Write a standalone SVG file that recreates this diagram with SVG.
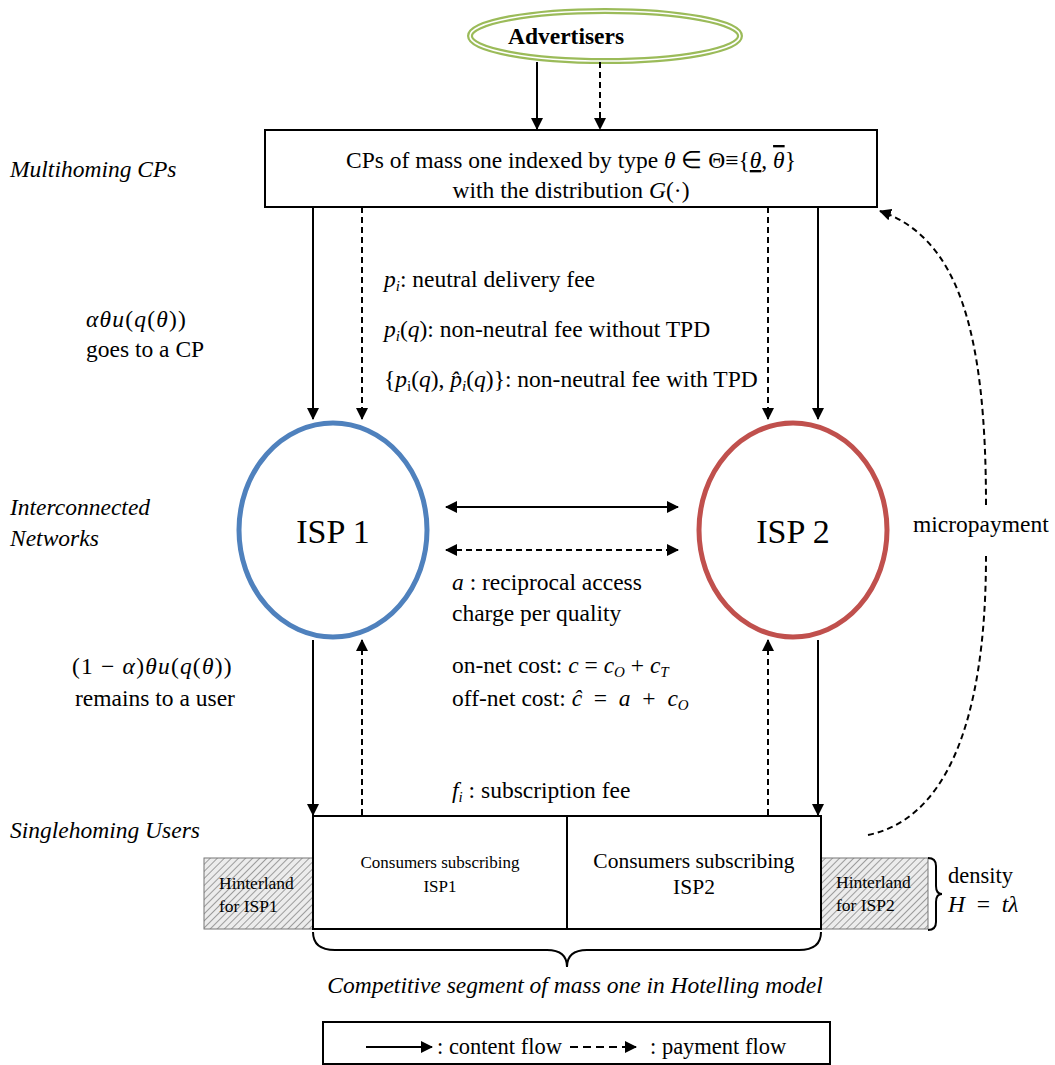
<svg xmlns="http://www.w3.org/2000/svg" width="1055" height="1065" viewBox="0 0 1055 1065">
<style>
text{font-family:"Liberation Serif","Times New Roman",serif;fill:#000;font-size:23.5px}
.it{font-style:italic}
.ln{stroke:#000;stroke-width:2;fill:none}
.da{stroke-dasharray:6 4}
.box{fill:#fff;stroke:#000;stroke-width:2}
.sub{font-size:15px}
.m{letter-spacing:1.2px}
</style>
<defs>
<marker id="ah" markerUnits="userSpaceOnUse" markerWidth="12" markerHeight="12" refX="11" refY="6" orient="auto-start-reverse" viewBox="0 0 12 12">
<path d="M0,0 L12,6 L0,12 z" fill="#000"/>
</marker>
<pattern id="hatch" patternUnits="userSpaceOnUse" width="5" height="5" patternTransform="rotate(45)">
<rect width="5" height="5" fill="#ececec"/>
<line x1="0" y1="0" x2="0" y2="5" stroke="#888" stroke-width="1.6"/>
</pattern>
</defs>
<rect width="1055" height="1065" fill="#fff"/>

<g id="side-labels">
<text x="10" y="177" class="it">Multihoming CPs</text>
<text x="10" y="515" class="it">Interconnected</text>
<text x="10" y="546" class="it">Networks</text>
<text x="10" y="838" class="it">Singlehoming Users</text>
</g>

<g id="advertisers">
<ellipse cx="605" cy="36" rx="135" ry="25" fill="#fff" stroke="#9bbb59" stroke-width="6"/>
<ellipse cx="605" cy="36" rx="135" ry="25" fill="none" stroke="#fff" stroke-width="1.6"/>
<text x="566" y="44" text-anchor="middle" font-weight="bold">Advertisers</text>
</g>

<g id="cps">
<rect x="265" y="130" width="612" height="77" class="box"/>
<text x="571" y="168" text-anchor="middle">CPs of mass one indexed by type <tspan class="it">θ</tspan> ∈ Θ≡{<tspan class="it" text-decoration="underline">θ</tspan>, <tspan class="it" text-decoration="overline">θ</tspan>}</text>
<text x="571" y="198" text-anchor="middle">with the distribution <tspan class="it">G</tspan>(·)</text>
</g>

<g id="isp1">
<ellipse cx="333" cy="530" rx="94" ry="107" fill="none" stroke="#4f81bd" stroke-width="5"/>
<text x="333" y="543" text-anchor="middle" style="font-size:34px">ISP 1</text>
</g>

<g id="isp2">
<ellipse cx="793" cy="530" rx="94" ry="107" fill="none" stroke="#c0504d" stroke-width="5"/>
<text x="793" y="543" text-anchor="middle" style="font-size:34px">ISP 2</text>
</g>

<g id="users">
<rect x="204" y="858" width="109" height="71" fill="url(#hatch)" stroke="#777" stroke-width="1"/>
<rect x="821" y="858" width="107" height="71" fill="url(#hatch)" stroke="#777" stroke-width="1"/>
<rect x="313" y="816" width="508" height="113" class="box"/>
<line x1="567" y1="816" x2="567" y2="929" class="ln"/>
<text x="440" y="868" text-anchor="middle" style="font-size:17px">Consumers subscribing</text>
<text x="440" y="892" text-anchor="middle" style="font-size:17px">ISP1</text>
<text x="694" y="868" text-anchor="middle" style="font-size:21.5px">Consumers subscribing</text>
<text x="694" y="894" text-anchor="middle" style="font-size:21.5px">ISP2</text>
<text x="219" y="889" style="font-size:17.5px">Hinterland</text>
<text x="219" y="912" style="font-size:17.5px">for ISP1</text>
<text x="836" y="888" style="font-size:17.5px">Hinterland</text>
<text x="836" y="911" style="font-size:17.5px">for ISP2</text>
</g>

<g id="connectors">
<line x1="537" y1="62" x2="537" y2="129" class="ln" marker-end="url(#ah)"/>
<line x1="600" y1="62" x2="600" y2="129" class="ln da" marker-end="url(#ah)"/>
<line x1="313" y1="207" x2="313" y2="419" class="ln" marker-end="url(#ah)"/>
<line x1="362" y1="207" x2="362" y2="419" class="ln da" marker-end="url(#ah)"/>
<line x1="768" y1="207" x2="768" y2="419" class="ln da" marker-end="url(#ah)"/>
<line x1="818" y1="207" x2="818" y2="419" class="ln" marker-end="url(#ah)"/>
<line x1="446" y1="507" x2="678" y2="507" class="ln" marker-start="url(#ah)" marker-end="url(#ah)"/>
<line x1="446" y1="550" x2="678" y2="550" class="ln da" marker-start="url(#ah)" marker-end="url(#ah)"/>
<line x1="313" y1="640" x2="313" y2="815" class="ln" marker-end="url(#ah)"/>
<line x1="362" y1="815" x2="362" y2="640" class="ln da" marker-end="url(#ah)"/>
<line x1="768" y1="815" x2="768" y2="640" class="ln da" marker-end="url(#ah)"/>
<line x1="818" y1="640" x2="818" y2="815" class="ln" marker-end="url(#ah)"/>
<path d="M868,835 C942,820 986,730 986,556" class="ln da"/>
<path d="M986,505 C986,330 958,238 880,211" class="ln da" marker-end="url(#ah)"/>
<path d="M928,858 Q936,858 936,866 L936,886 Q936,894 942,894 Q936,894 936,902 L936,922 Q936,930 928,930" class="ln"/>
<path d="M313,932 Q313,950 335,950 L547,950 Q567,950 567,967 Q567,950 587,950 L799,950 Q821,950 821,932" class="ln"/>
</g>

<g id="labels">
<text x="384" y="287"><tspan class="it">p</tspan><tspan class="it sub" dy="4">i</tspan><tspan dy="-4">: neutral delivery fee</tspan></text>
<text x="384" y="337"><tspan class="it">p</tspan><tspan class="it sub" dy="4">i</tspan><tspan dy="-4">(</tspan><tspan class="it">q</tspan>): non-neutral fee without TPD</text>
<text x="384" y="387">{<tspan class="it">p</tspan><tspan class="sub" dy="4">i</tspan><tspan dy="-4">(</tspan><tspan class="it">q</tspan>), <tspan class="it">p̂</tspan><tspan class="it sub" dy="4">i</tspan><tspan dy="-4">(</tspan><tspan class="it">q</tspan>)}: non-neutral fee with TPD</text>
<text x="86" y="327" class="m"><tspan class="it">αθu</tspan>(<tspan class="it">q</tspan>(<tspan class="it">θ</tspan>))</text>
<text x="86" y="357">goes to a CP</text>
<text x="72" y="674" class="m">(1 − <tspan class="it">α</tspan>)<tspan class="it">θu</tspan>(<tspan class="it">q</tspan>(<tspan class="it">θ</tspan>))</text>
<text x="155" y="706" text-anchor="middle">remains to a user</text>
<text x="452" y="590"><tspan class="it">a</tspan> : reciprocal access</text>
<text x="452" y="621">charge per quality</text>
<text x="452" y="673">on-net cost: <tspan class="it">c</tspan> = <tspan class="it">c</tspan><tspan class="it sub" dy="4">O</tspan><tspan dy="-4"> + </tspan><tspan class="it">c</tspan><tspan class="it sub" dy="4">T</tspan></text>
<text x="452" y="706" xml:space="preserve">off-net cost: <tspan class="it">ĉ</tspan>  =  <tspan class="it">a</tspan>  +  <tspan class="it">c</tspan><tspan class="it sub" dy="4">O</tspan></text>
<text x="452" y="798" xml:space="preserve"><tspan class="it">f</tspan><tspan class="it sub" dy="4">i</tspan><tspan dy="-4"> : subscription fee</tspan></text>
<text x="913" y="532">micropayment</text>
<text x="948" y="883" style="font-size:22.5px">density</text>
<text x="948" y="912" class="it" xml:space="preserve">H  <tspan font-style="normal">=</tspan>  tλ</text>
<text x="575" y="993" text-anchor="middle" class="it">Competitive segment of mass one in Hotelling model</text>
</g>

<g id="legend">
<rect x="323" y="1022" width="507" height="42" class="box"/>
<line x1="366" y1="1047" x2="432" y2="1047" class="ln" stroke-width="3" marker-end="url(#ah)"/>
<text x="437" y="1054" style="font-size:22.5px">: content flow</text>
<line x1="570" y1="1047" x2="636" y2="1047" class="ln" stroke-dasharray="8 5" stroke-width="3" marker-end="url(#ah)"/>
<text x="650" y="1054" style="font-size:22.5px">: payment flow</text>
</g>
</svg>
